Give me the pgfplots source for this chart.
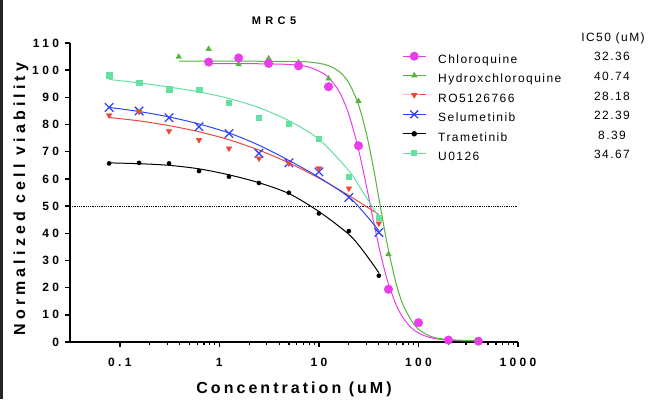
\documentclass[border=0pt]{standalone}
\usepackage{pgfplots}
\pgfplotsset{compat=1.18}
\usepackage{pgfplotstable}
\usepackage{fontspec}
\setmainfont{Liberation Sans}
\newfontfamily\tickfont[LetterSpace=28]{Liberation Sans}
\newfontfamily\xlabfont[LetterSpace=19]{Liberation Sans}
\newfontfamily\ylabfont[LetterSpace=26]{Liberation Sans}
\newfontfamily\legfont[LetterSpace=12]{Liberation Sans}
\newfontfamily\titfont[LetterSpace=40]{Liberation Sans}

\definecolor{cq}{RGB}{235,60,235}
\definecolor{hcq}{RGB}{85,180,60}
\definecolor{ro}{RGB}{240,70,55}
\definecolor{selu}{RGB}{45,70,245}
\definecolor{tram}{RGB}{0,0,0}
\definecolor{uo}{RGB}{100,225,160}

% measured viability (%)
\pgfplotstableread{
c y
0.78125 103.0
1.5625 104.5
3.125 102.5
6.25 101.6
12.5 93.9
25 72.2
50 19.4
100 7.1
200 0.7
400 0.3
}\cqdata
\pgfplotstableread{
c y
0.390625 104.9
0.78125 107.8
1.5625 102.2
3.125 104.3
6.25 102.8
12.5 96.9
25 88.6
50 32.3
100 6.5
200 1.0
400 0.5
}\hcqdata
\pgfplotstableread{
c y
0.078125 83.4
0.15625 84.7
0.3125 77.6
0.625 74.3
1.25 71.2
2.5 67.5
5 65.7
10 63.9
20 56.5
40 43.6
}\rodata
\pgfplotstableread{
c y
0.078125 86.3
0.15625 85.0
0.3125 82.5
0.625 79.2
1.25 76.7
2.5 69.4
5 65.9
10 62.6
20 53.2
40 40.3
}\seludata
\pgfplotstableread{
c y
0.078125 65.7
0.15625 65.9
0.3125 65.7
0.625 62.9
1.25 60.8
2.5 58.5
5 54.9
10 47.3
20 40.8
40 24.4
}\tramdata
\pgfplotstableread{
c y
0.078125 98.2
0.15625 95.3
0.3125 93.0
0.625 92.9
1.25 88.1
2.5 82.6
5 80.4
10 74.9
20 60.8
40 45.8
}\uodata

% fitted dose-response curves
\pgfplotstableread{
c y
0.78125 102.4
2 102.4
5 102.1
8 101.1
12 97.9
16 92.1
20 83.7
25 70.8
30 57.4
35 45.3
40 35.2
45 27.4
50 21.4
60 13.5
70 8.9
85 5.2
100 3.3
130 1.65
170 0.9
250 0.5
400 0.35
}\cqfit
\pgfplotstableread{
c y
0.390625 103.3
2 103.3
5 103.2
8 103.0
12 101.9
16 99.5
20 95.3
25 87.3
30 76.7
35 64.8
40 53.0
45 42.5
50 33.7
60 21.2
70 13.7
85 7.9
100 4.7
130 2.2
170 1.2
250 0.7
400 0.5
}\hcqfit
\pgfplotstableread{
c y
0.078125 82.6
0.15625 81.35
0.3125 79.6
0.625 77.35
1.25 74.4
2.5 70.6
5 65.9
10 60.3
20 53.9
40 46.9
}\rofit
\pgfplotstableread{
c y
0.078125 86.3
0.15625 84.8
0.3125 82.8
0.625 80.2
1.25 76.9
2.5 72.4
5 66.8
10 60.6
20 53.3
28.28 47.6
40 41.0
}\selufit
\pgfplotstableread{
c y
0.078125 65.9
0.15625 65.6
0.3125 65.0
0.625 63.7
1.25 61.5
2.5 58.6
5 54.6
10 48.0
20 39.6
28.28 33.2
40 25.5
}\tramfit
\pgfplotstableread{
c y
0.078125 96.6
0.15625 95.3
0.3125 93.8
0.625 92.0
1.25 89.6
2.5 86.2
5 81.4
10 74.6
20 63.0
28.28 54.6
40 46.0
}\uofit

\begin{document}
\begin{tikzpicture}
\begin{axis}[
  scale only axis,
  width=448pt, height=299pt,
  xmode=log,
  xmin=0.0316228, xmax=1000,
  ymin=0, ymax=110,
  axis lines=left,
  axis line style={-, line width=2.3pt},
  tick align=outside,
  major tick length=5pt,
  minor tick length=3pt,
  every tick/.style={black, line width=1.5pt},
  every minor tick/.style={black, line width=1.2pt},
  xtick={0.1,1,10,100,1000},
  xticklabels={0.1,1,10,100,1000},
  ytick={0,10,...,110},
  /pgf/number format/assume math mode=true,
  tick label style={font=\tickfont\bfseries\fontsize{12}{12}\selectfont},
  yticklabel style={anchor=east, xshift=-2.5pt},
  xticklabel style={anchor=base, yshift=-19pt},
  xlabel={Concentration (uM)},
  ylabel={Normalized cell viability},
  xlabel style={font=\xlabfont\bfseries\fontsize{16}{16}\selectfont,
    at={(axis description cs:0.5,-0.1706)}, anchor=base},
  ylabel style={font=\ylabfont\bfseries\fontsize{16}{16}\selectfont,
    at={(axis description cs:-0.1004,0.478)}, anchor=base},
  clip=false,
  legend cell align=left,
  legend image code/.code={\draw[mark repeat=2,mark phase=2,#1] plot coordinates {(0pt,4pt) (11.5pt,4pt) (23pt,4pt)};},
  legend style={at={(rel axis cs:0.7411,0.9756)}, anchor=north west,
    draw=none, fill=none, inner sep=0pt, row sep=0pt,
    font=\legfont\fontsize{12}{12}\selectfont,
    nodes={inner sep=0pt, text height=13pt, text depth=6.4pt},
    /tikz/every odd column/.append style={column sep=12pt}},
]
% 50 % reference line
\addplot[forget plot, black, densely dotted, line width=0.8pt] coordinates {(0.0316228,50) (1000,50)};

% fitted curves
\addplot[forget plot, smooth, cq, line width=1pt] table[x=c,y=y] {\cqfit};
\addplot[forget plot, smooth, hcq, line width=1pt] table[x=c,y=y] {\hcqfit};
\addplot[forget plot, smooth, ro, line width=1pt] table[x=c,y=y] {\rofit};
\addplot[forget plot, smooth, selu, line width=1pt] table[x=c,y=y] {\selufit};
\addplot[forget plot, smooth, tram, line width=1pt] table[x=c,y=y] {\tramfit};
\addplot[forget plot, smooth, uo, line width=1pt] table[x=c,y=y] {\uofit};

% measured points
\addplot[forget plot, only marks, uo, mark=square*, mark size=2.7pt] table[x=c,y=y] {\uodata};
\addplot[forget plot, only marks, tram, mark=*, mark size=2.1pt] table[x=c,y=y] {\tramdata};
\addplot[forget plot, only marks, selu, mark=x, mark size=6pt, mark options={line width=1.3pt}] table[x=c,y=y] {\seludata};
\addplot[forget plot, only marks, ro, mark=triangle*, mark size=3.2pt, mark options={rotate=180}] table[x=c,y=y] {\rodata};
\addplot[forget plot, only marks, hcq, mark=triangle*, mark size=3.2pt] table[x=c,y=y] {\hcqdata};
\addplot[forget plot, only marks, cq, mark=*, mark size=4.3pt] table[x=c,y=y] {\cqdata};

\addlegendimage{cq, line width=1pt, mark=*, mark size=4pt}
\addlegendentry{Chloroquine}
\addlegendimage{hcq, line width=1pt, mark=triangle*, mark size=2.8pt}
\addlegendentry{Hydroxchloroquine}
\addlegendimage{ro, line width=1pt, mark=triangle*, mark size=2.8pt, mark options={rotate=180}}
\addlegendentry{RO5126766}
\addlegendimage{selu, line width=1pt, mark=x, mark size=5.5pt, mark options={line width=1.3pt}}
\addlegendentry{Selumetinib}
\addlegendimage{tram, line width=1pt, mark=*, mark size=2.2pt}
\addlegendentry{Trametinib}
\addlegendimage{uo, line width=1pt, mark=square*, mark size=2.6pt}
\addlegendentry{U0126}
\end{axis}

% title and IC50 column
\node[font=\titfont\bfseries\fontsize{11}{11}\selectfont] at (204pt,321pt) {MRC5};
\begin{scope}[every node/.style={font=\legfont\fontsize{12}{12}\selectfont}]
\node at (543pt,304pt) {IC50 (uM)};
\node at (542pt,285.3pt) {32.36};
\node at (542pt,265.6pt) {40.74};
\node at (542pt,245.9pt) {28.18};
\node at (542pt,226.2pt) {22.39};
\node at (542pt,206.8pt) {8.39};
\node at (542pt,187.4pt) {34.67};
\end{scope}

\fill[black!85] (-70pt,-57pt) rectangle (-67pt,342pt);
\pgfresetboundingbox
\useasboundingbox (-70pt,-57pt) rectangle (582pt,342pt);
\end{tikzpicture}
\end{document}
